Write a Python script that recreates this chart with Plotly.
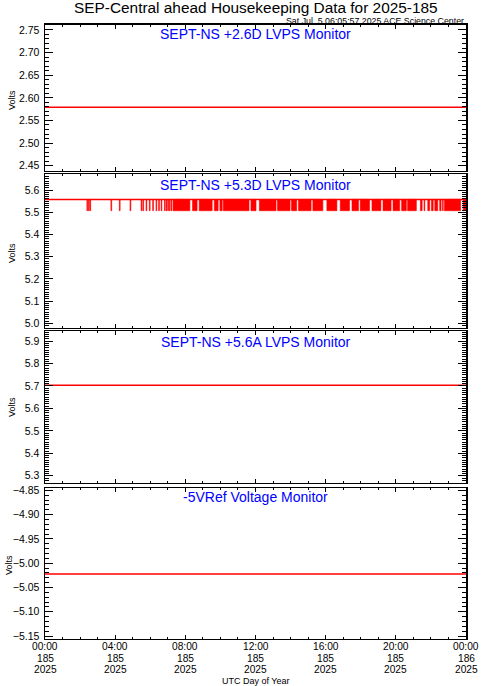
import plotly.graph_objects as go

# ---------------- data ----------------
hours = [0, 24]
v26d = [2.579, 2.579]            # SEPT-NS +2.6D LVPS
v56a = [5.703, 5.703]            # SEPT-NS +5.6A LVPS
v5ref = [-5.022, -5.022]         # -5VRef
v53_hi = 5.558                   # SEPT-NS +5.3D LVPS normal level
v53_lo = 5.507                   # SEPT-NS +5.3D LVPS low level
# intervals (hours) during which +5.3D reads the low level
low_start = [2.41, 2.50, 2.58, 3.78, 4.26, 4.87, 5.50, 5.60, 5.78, 5.97, 6.16, 6.35, 6.50,
             6.64, 6.83, 6.93, 7.02, 7.11, 7.21,
             7.30, 8.41, 8.79, 9.65, 9.97, 10.16, 11.74, 12.22, 13.25, 14.05, 14.45,
             15.27, 16.07, 16.83, 17.50, 17.97, 18.64, 19.27, 19.84, 20.33, 20.67,
             21.40, 21.63, 21.82, 22.03, 22.22, 22.50, 22.66, 22.77, 23.84]
low_end = [2.41, 2.50, 2.58, 3.78, 4.26, 4.87, 5.50, 5.60, 5.78, 5.97, 6.16, 6.35, 6.50,
           6.64, 6.83, 6.93, 7.02, 7.11, 7.21,
           8.26, 8.67, 9.53, 9.87, 10.10, 11.63, 12.03, 13.17, 13.97, 14.35, 15.17,
           15.84, 16.64, 17.36, 17.87, 18.50, 19.15, 19.73, 20.22, 20.60, 21.17,
           21.50, 21.63, 21.93, 22.13, 22.39, 22.58, 22.70, 23.69, 24.0]

tick_hours = [0, 4, 8, 12, 16, 20, 24]
tick_time = ["00:00", "04:00", "08:00", "12:00", "16:00", "20:00", "00:00"]
tick_doy = ["185", "185", "185", "185", "185", "185", "186"]
tick_year = ["2025", "2025", "2025", "2025", "2025", "2025", "2025"]

panel_titles = ["SEPT-NS +2.6D LVPS Monitor", "SEPT-NS +5.3D LVPS Monitor",
                "SEPT-NS +5.6A LVPS Monitor", "-5VRef Voltage Monitor"]
y_ranges = [[2.439, 2.762], [4.980, 5.671], [5.270, 5.945], [-5.155, -4.845]]
y_dticks = [0.05, 0.1, 0.1, 0.05]
y_minor = [0.01, 0.01, 0.01, 0.01]
y_fmt = [".2f", ".1f", ".1f", ".2f"]

# ---------------- layout geometry (page pixels) ----------------
W, H = 481, 686
L, R = 45, 466
PW = R - L


def py(ypx):
    return 1 - ypx / H


def px(xpx):
    return (xpx - L) / PW


panels_px = [(24.5, 170.7), (174.3, 327.7), (331.0, 482.5), (488.0, 638.5)]
domains = [[py(b), py(t)] for (t, b) in panels_px]

fig = go.Figure()
FONT = "Liberation Sans, Arial, sans-serif"
RED = "#ff0000"

fig.add_trace(go.Scatter(x=hours, y=v26d, mode="lines", line=dict(color=RED, width=1.5),
                         xaxis="x", yaxis="y", showlegend=False))
centers = [(s + e) / 2 for s, e in zip(low_start, low_end)]
widths = [max(e - s, 0.045) for s, e in zip(low_start, low_end)]
fig.add_trace(go.Bar(x=centers, y=[v53_hi - v53_lo] * len(centers), base=v53_lo, width=widths,
                     marker=dict(color=RED, line=dict(color=RED, width=0.6)),
                     xaxis="x2", yaxis="y2", showlegend=False))
fig.add_trace(go.Scatter(x=hours, y=[v53_hi, v53_hi], mode="lines", line=dict(color=RED, width=1.5),
                         xaxis="x2", yaxis="y2", showlegend=False))
fig.add_trace(go.Scatter(x=hours, y=v56a, mode="lines", line=dict(color=RED, width=1.5),
                         xaxis="x3", yaxis="y3", showlegend=False))
fig.add_trace(go.Scatter(x=hours, y=v5ref, mode="lines", line=dict(color=RED, width=1.5),
                         xaxis="x4", yaxis="y4", showlegend=False))

layout = dict(
    template="none",
    width=W, height=H,
    margin=dict(l=L, r=W - R, t=0, b=0, pad=0),
    paper_bgcolor="white", plot_bgcolor="white",
    font=dict(family=FONT, color="black", size=10),
    barmode="overlay", bargap=0, showlegend=False, hovermode=False,
)
for i in range(4):
    n = "" if i == 0 else str(i + 1)
    layout["xaxis" + n] = dict(
        domain=[0, 1], anchor="y" + n, range=[0, 24], automargin=False,
        tickmode="array", tickvals=tick_hours, showticklabels=False,
        ticks="inside", ticklen=4, tickwidth=1, tickcolor="black",
        minor=dict(dtick=1, tick0=0, ticks="inside", ticklen=2, tickwidth=1, tickcolor="black"),
        showline=True, linecolor="black", linewidth=1.5, mirror="allticks",
        showgrid=False, zeroline=False, fixedrange=True,
    )
    layout["yaxis" + n] = dict(
        domain=domains[i], anchor="x" + n, range=y_ranges[i], automargin=False,
        dtick=y_dticks[i], tick0=0, tickformat=y_fmt[i],
        ticks="inside", ticklen=8, tickwidth=1, tickcolor="black",
        minor=dict(dtick=y_minor[i], ticks="inside", ticklen=4, tickwidth=1, tickcolor="black"),
        showline=True, linecolor="black", linewidth=1.5, mirror="allticks",
        showgrid=False, zeroline=False, fixedrange=True,
        tickfont=dict(size=10.5, family=FONT), ticklabelstandoff=2,
    )
fig.update_layout(**layout)

ann = []
title_px = [34, 185, 342, 497]
volts_px = [100, 253, 407, 565]
volts_x = [12, 12, 12, 9]
for i in range(4):
    ann.append(dict(text=panel_titles[i], xref="paper", yref="paper", x=0.5, y=py(title_px[i]),
                    xanchor="center", yanchor="middle", showarrow=False,
                    font=dict(size=14, color="#0000ff", family=FONT)))
    ann.append(dict(text="Volts", xref="paper", yref="paper", x=px(volts_x[i]), y=py(volts_px[i]),
                    xanchor="center", yanchor="middle", showarrow=False, textangle=-90,
                    font=dict(size=9, color="black", family=FONT)))
# x tick labels (three rows) on the bottom panel's time scale
rows = [(tick_time, 646.5), (tick_doy, 658), (tick_year, 669.5)]
for labels, ypx in rows:
    for h, lab in zip(tick_hours, labels):
        ann.append(dict(text=lab, xref="x4", yref="paper", x=h, y=py(ypx),
                        xanchor="center", yanchor="middle", showarrow=False,
                        font=dict(size=10.2, color="black", family=FONT)))
ann.append(dict(text="SEP-Central ahead Housekeeping Data for 2025-185", xref="paper", yref="paper",
                x=0.5, y=py(8), xanchor="center", yanchor="middle", showarrow=False,
                font=dict(size=15.4, color="black", family=FONT)))
ann.append(dict(text="Sat Jul\u00a0\u00a05 06:05:57 2025 ACE Science Center", xref="paper", yref="paper",
                x=1, y=py(20.5), xanchor="right", yanchor="middle", showarrow=False,
                font=dict(size=8.8, color="black", family=FONT)))
ann.append(dict(text="UTC Day of Year", xref="paper", yref="paper",
                x=0.5, y=py(681), xanchor="center", yanchor="middle", showarrow=False,
                font=dict(size=9, color="black", family=FONT)))
fig.update_layout(annotations=ann)

# remove the browser's default 8px body margin so page pixels equal figure pixels
fig.write_html("out.html", config={"displayModeBar": False, "staticPlot": True},
               post_script="document.body.style.margin='0px';")
